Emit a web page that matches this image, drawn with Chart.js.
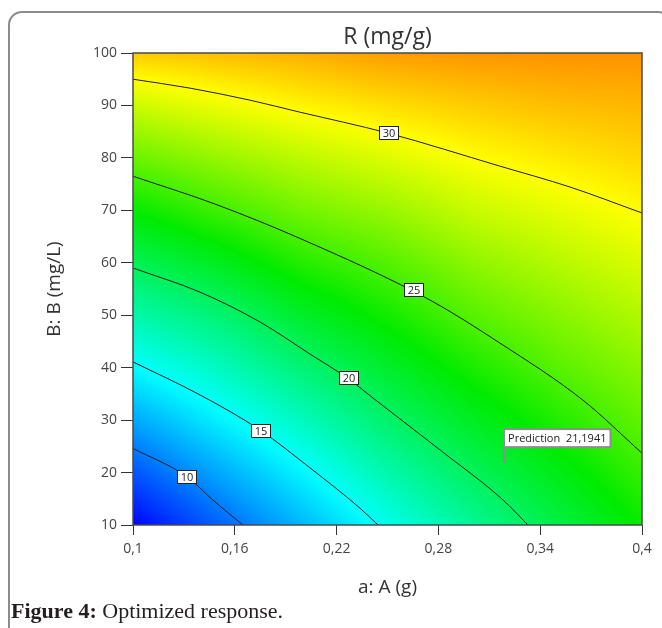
<!DOCTYPE html>
<html>
<head>
<meta charset="utf-8">
<script src="https://cdn.jsdelivr.net/npm/chart.js@4.4.0/dist/chart.umd.min.js"></script>
<style>
    html, body { margin: 0; padding: 0; background: #fff; overflow: hidden; }
    #frame { position: absolute; left: 8px; top: 11px; width: 660px; height: 640px; border: 2px solid #8c8c8c; border-radius: 14px; }
    #wrap { position: absolute; left: 0; top: 0; width: 662px; height: 628px; }
    #caption { position: absolute; left: 11px; top: 600px; font-family: "Liberation Serif", "DejaVu Serif", serif; font-size: 22px; line-height: 22px; color: #231f20; white-space: nowrap; }
</style>
</head>
<body>
<div id="frame"></div>
<div id="wrap"><canvas id="contourChart" width="662" height="628"></canvas></div>
<div id="caption"><b>Figure 4:</b> Optimized response.</div>
<script>
// Axes
const aTicks = [0.1, 0.16, 0.22, 0.28, 0.34, 0.4];
const aTickLabels = ['0,1', '0,16', '0,22', '0,28', '0,34', '0,4'];
const bTicks = [10, 20, 30, 40, 50, 60, 70, 80, 90, 100];

// Response surface (rows = B, columns = A)
const gridA = [0.1, 0.15, 0.2, 0.25, 0.3, 0.35, 0.4];
const gridB = [10, 20, 30, 40, 50, 60, 70, 80, 90, 100];
const gridR = [
    [5.6, 9.0, 12.2, 15.4, 18.2, 20.8, 23.2],
    [8.6, 11.6, 14.5, 17.5, 20.1, 22.3, 24.5],
    [11.6, 14.3, 16.9, 19.6, 21.9, 23.9, 25.7],
    [14.7, 16.8, 19.3, 21.6, 23.7, 25.4, 26.8],
    [17.5, 19.3, 21.7, 23.5, 25.4, 26.7, 27.9],
    [20.3, 22.0, 24.0, 25.3, 26.9, 28.0, 29.0],
    [23.1, 24.7, 26.2, 27.2, 28.5, 29.3, 30.1],
    [25.9, 27.1, 28.2, 29.1, 30.0, 30.6, 31.1],
    [28.6, 29.5, 30.3, 30.9, 31.4, 31.8, 32.0],
    [31.4, 31.8, 32.2, 32.7, 32.9, 33.0, 33.0]
];

// Contour lines
const contourLevels = [10, 15, 20, 25, 30];
const contour10 = [{x: 0.1, y: 24.6}, {x: 0.1318, y: 19.2}, {x: 0.1483, y: 14.4}, {x: 0.1648, y: 10}];
const contour15 = [{x: 0.1, y: 41.1}, {x: 0.1395, y: 34.8}, {x: 0.1749, y: 28.1}, {x: 0.2043, y: 20.9}, {x: 0.2338, y: 13.2}, {x: 0.2444, y: 10}];
const contour20 = [{x: 0.1, y: 59}, {x: 0.1395, y: 54.4}, {x: 0.1749, y: 48.7}, {x: 0.2043, y: 42.6}, {x: 0.2273, y: 37.8}, {x: 0.2415, y: 34.2}, {x: 0.281, y: 24.3}, {x: 0.318, y: 14.8}, {x: 0.3328, y: 10}];
const contour25 = [{x: 0.1, y: 76.5}, {x: 0.1483, y: 71.2}, {x: 0.198, y: 64.7}, {x: 0.275, y: 52.9}, {x: 0.3162, y: 44.7}, {x: 0.3652, y: 33.8}, {x: 0.4, y: 23.7}];
const contour30 = [{x: 0.1, y: 95}, {x: 0.1336, y: 93.3}, {x: 0.169, y: 91}, {x: 0.198, y: 88.75}, {x: 0.25, y: 84.75}, {x: 0.316, y: 78.45}, {x: 0.3575, y: 74.45}, {x: 0.4, y: 69.5}];
const contourLabelSpots = [{x: 0.1318, y: 19.2}, {x: 0.1749, y: 28.1}, {x: 0.2273, y: 38.2}, {x: 0.2656, y: 55.0}, {x: 0.2503, y: 84.75}];

// Flag
const predictionPoint = {x: 0.3187, y: 21.8};
const predictionText = 'Prediction  21,1941';

// Colour scale (blue -> cyan -> green -> yellow -> red)
const colorStops = [
    [5.5, [0, 0, 255]],
    [14.8, [0, 255, 255]],
    [23, [0, 235, 0]],
    [30, [255, 255, 0]],
    [37, [255, 0, 0]]
];

function colorFor(v) {
    if (v <= colorStops[0][0]) return colorStops[0][1];
    for (let i = 1; i < colorStops.length; i++) {
        if (v <= colorStops[i][0]) {
            const [v0, c0] = colorStops[i - 1];
            const [v1, c1] = colorStops[i];
            const t = (v - v0) / (v1 - v0);
            return [0, 1, 2].map(k => c0[k] + (c1[k] - c0[k]) * t);
        }
    }
    return colorStops[colorStops.length - 1][1];
}

function locate(arr, v) {
    let i = 0;
    while (i < arr.length - 2 && v > arr[i + 1]) i++;
    const t = Math.min(1, Math.max(0, (v - arr[i]) / (arr[i + 1] - arr[i])));
    return [i, t];
}

function sampleR(a, b) {
    const [i, ta] = locate(gridA, a);
    const [j, tb] = locate(gridB, b);
    const r0 = gridR[j][i] + (gridR[j][i + 1] - gridR[j][i]) * ta;
    const r1 = gridR[j + 1][i] + (gridR[j + 1][i + 1] - gridR[j + 1][i]) * ta;
    return r0 + (r1 - r0) * tb;
}

const fieldPlugin = {
    id: 'field',
    beforeDatasetsDraw(chart) {
        const {ctx, chartArea: ca, scales: {x, y}} = chart;
        const w = Math.round(ca.right - ca.left);
        const h = Math.round(ca.bottom - ca.top);
        const off = document.createElement('canvas');
        off.width = w;
        off.height = h;
        const octx = off.getContext('2d');
        const img = octx.createImageData(w, h);
        for (let j = 0; j < h; j++) {
            const b = y.getValueForPixel(ca.top + j + 0.5);
            for (let i = 0; i < w; i++) {
                const a = x.getValueForPixel(ca.left + i + 0.5);
                const c = colorFor(sampleR(a, b));
                const p = (j * w + i) * 4;
                img.data[p] = c[0];
                img.data[p + 1] = c[1];
                img.data[p + 2] = c[2];
                img.data[p + 3] = 255;
            }
        }
        octx.putImageData(img, 0, 0);
        ctx.drawImage(off, ca.left, ca.top);
    },
    afterDatasetsDraw(chart) {
        const {ctx, chartArea: ca, scales: {x, y}} = chart;
        ctx.save();
        // frame
        ctx.strokeStyle = '#4a4a4a';
        ctx.lineWidth = 1.5;
        ctx.strokeRect(ca.left, ca.top, ca.right - ca.left, ca.bottom - ca.top);

        // contour labels
        ctx.font = '11px "Open Sans"';
        ctx.textAlign = 'center';
        ctx.textBaseline = 'middle';
        contourLabelSpots.forEach((s, k) => {
            const px = x.getPixelForValue(s.x);
            const py = y.getPixelForValue(s.y);
            const txt = String(contourLevels[k]);
            const bw = Math.round(ctx.measureText(txt).width + 6);
            const bx = Math.round(px - bw / 2) + 0.5;
            const by = Math.round(py - 6.5) + 0.5;
            ctx.fillStyle = '#fff';
            ctx.fillRect(bx, by, bw, 13);
            ctx.strokeStyle = '#222';
            ctx.lineWidth = 1;
            ctx.strokeRect(bx, by, bw, 13);
            ctx.fillStyle = '#222';
            ctx.fillText(txt, bx + bw / 2, by + 7);
        });

        // prediction flag
        const fx = x.getPixelForValue(predictionPoint.x);
        const fy = y.getPixelForValue(predictionPoint.y);
        ctx.font = '11px "Open Sans"';
        const tw = ctx.measureText(predictionText).width + 8;
        const boxTop = fy - 34;
        ctx.strokeStyle = '#8e8e8e';
        ctx.lineWidth = 2;
        ctx.beginPath();
        ctx.moveTo(fx, fy);
        ctx.lineTo(fx, boxTop + 18);
        ctx.stroke();
        ctx.fillStyle = '#fff';
        ctx.fillRect(fx, boxTop, tw, 18);
        ctx.strokeRect(fx, boxTop, tw, 18);
        ctx.fillStyle = '#222';
        ctx.textAlign = 'left';
        ctx.fillText(predictionText, fx + 4, boxTop + 9.5);
        ctx.restore();
    }
};

function contourSet(points) {
    return {
        data: points,
        showLine: true,
        borderColor: '#1c1c1c',
        borderWidth: 1,
        pointRadius: 0,
        cubicInterpolationMode: 'monotone'
    };
}

document.addEventListener('DOMContentLoaded', () => {
    const ctx = document.getElementById('contourChart').getContext('2d');
    new Chart(ctx, {
        type: 'scatter',
        data: {
            datasets: [contour10, contour15, contour20, contour25, contour30].map(contourSet)
        },
        options: {
            responsive: false,
            animation: false,
            layout: { padding: { top: 0, left: 0, right: 20, bottom: 0 } },
            plugins: {
                legend: { display: false },
                tooltip: { enabled: false },
                title: {
                    display: true,
                    fullSize: false,
                    text: 'R (mg/g)',
                    color: '#333',
                    font: { family: 'Open Sans', size: 23, weight: 'normal' },
                    padding: { top: 24, bottom: 1.4 }
                }
            },
            scales: {
                x: {
                    type: 'linear',
                    min: 0.1,
                    max: 0.4,
                    afterBuildTicks: s => { s.ticks = aTicks.map(v => ({value: v})); },
                    afterFit: s => { s.height = 103; },
                    border: { display: false },
                    grid: { drawOnChartArea: false, drawTicks: true, tickLength: 10, color: '#333' },
                    ticks: {
                        color: '#444',
                        padding: 6,
                        font: { family: 'Open Sans', size: 14 },
                        callback: (v, i) => aTickLabels[i]
                    },
                    title: {
                        display: true,
                        text: 'a: A (g)',
                        color: '#333',
                        font: { family: 'Open Sans', size: 19 },
                        padding: { top: 0, bottom: 28.6 }
                    }
                },
                y: {
                    type: 'linear',
                    min: 10,
                    max: 100,
                    afterBuildTicks: s => { s.ticks = bTicks.map(v => ({value: v})); },
                    afterFit: s => { s.width = 133; },
                    border: { display: false },
                    grid: { drawOnChartArea: false, drawTicks: true, tickLength: 12, color: '#333' },
                    ticks: {
                        color: '#444',
                        padding: 4,
                        font: { family: 'Open Sans', size: 14 }
                    },
                    title: {
                        display: true,
                        text: 'B: B (mg/L)',
                        color: '#333',
                        font: { family: 'Open Sans', size: 19 },
                        padding: { top: 43.6, bottom: 0 }
                    }
                }
            }
        },
        plugins: [fieldPlugin]
    });
});
</script>
</body>
</html>
